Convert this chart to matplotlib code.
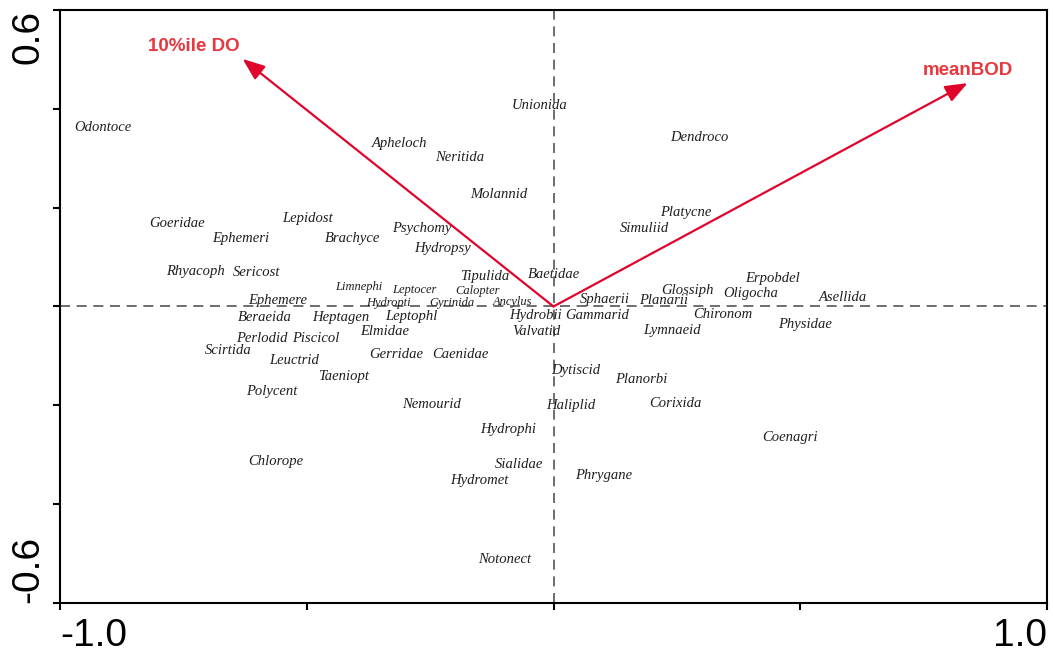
import matplotlib
matplotlib.use("Agg")
import matplotlib.pyplot as plt

# Taxon scores (axis 1, axis 2)
taxa = ["Odontoce", "Unionida", "Apheloch", "Neritida", "Dendroco", "Molannid",
        "Platycne", "Simuliid", "Goeridae", "Lepidost", "Ephemeri", "Brachyce",
        "Psychomy", "Hydropsy", "Rhyacoph", "Sericost", "Tipulida", "Baetidae",
        "Ephemere", "Sphaerii", "Planarii", "Glossiph", "Oligocha", "Erpobdel",
        "Asellida", "Beraeida", "Heptagen", "Leptophl", "Hydrobii", "Gammarid",
        "Chironom", "Elmidae", "Valvatid", "Lymnaeid", "Physidae", "Perlodid",
        "Piscicol", "Scirtida", "Leuctrid", "Gerridae", "Caenidae", "Taeniopt",
        "Dytiscid", "Planorbi", "Polycent", "Nemourid", "Haliplid", "Corixida",
        "Hydrophi", "Coenagri", "Chlorope", "Sialidae", "Phrygane", "Hydromet",
        "Notonect"]
taxa_x = [-0.914, -0.028, -0.312, -0.190, 0.296, -0.111,
          0.267, 0.184, -0.762, -0.498, -0.634, -0.407,
          -0.267, -0.225, -0.725, -0.602, -0.140, 0.000,
          -0.559, 0.103, 0.223, 0.272, 0.399, 0.444,
          0.586, -0.586, -0.432, -0.288, -0.036, 0.089,
          0.344, -0.342, -0.034, 0.241, 0.509, -0.592,
          -0.482, -0.659, -0.525, -0.318, -0.188, -0.426,
          0.045, 0.178, -0.571, -0.247, 0.036, 0.247,
          -0.091, 0.480, -0.563, -0.069, 0.101, -0.150,
          -0.099]
taxa_y = [0.363, 0.406, 0.329, 0.301, 0.341, 0.226,
          0.191, 0.157, 0.167, 0.179, 0.137, 0.137,
          0.157, 0.118, 0.070, 0.068, 0.060, 0.064,
          0.013, 0.015, 0.013, 0.033, 0.027, 0.056,
          0.019, -0.023, -0.023, -0.021, -0.019, -0.019,
          -0.017, -0.050, -0.050, -0.048, -0.037, -0.064,
          -0.064, -0.090, -0.110, -0.098, -0.098, -0.141,
          -0.129, -0.147, -0.173, -0.199, -0.201, -0.197,
          -0.248, -0.266, -0.313, -0.319, -0.343, -0.353,
          -0.511]

# Crowded taxa near the origin, printed smaller
small_taxa = ["Limnephi", "Leptocer", "Calopter", "Hydropti", "Gyrinida", "Ancylus"]
small_x = [-0.395, -0.282, -0.154, -0.334, -0.205, -0.083]
small_y = [0.039, 0.033, 0.031, 0.007, 0.007, 0.009]

# Environmental variable biplot arrows
env_names = ["10%ile DO", "meanBOD"]
env_x = [-0.630, 0.839]
env_y = [0.501, 0.452]

xlim = (-1.0, 1.0)
ylim = (-0.6, 0.6)
xticks = [-1.0, -0.5, 0.0, 0.5, 1.0]
yticks = [-0.6, -0.4, -0.2, 0.0, 0.2, 0.4, 0.6]
xticklabels = ["-1.0", "", "", "", "1.0"]
yticklabels = ["-0.6", "", "", "", "", "", "0.6"]

arrow_color = "#e0042c"
env_label_color = "#e6383f"
text_color = "#1e1e1e"

fig = plt.figure(figsize=(10.53, 6.57), dpi=100)
ax = fig.add_axes([0.0570, 0.0822, 0.9373, 0.9026])
ax.set_xlim(*xlim)
ax.set_ylim(*ylim)

# Centre cross
ax.axhline(0, color="#555555", lw=1.2, ls=(0, (6, 4)), zorder=1)
ax.axvline(0, color="#555555", lw=1.2, ls=(0, (6, 4)), zorder=1)

serif = ["Liberation Serif", "DejaVu Serif"]
for name, x, y in zip(taxa, taxa_x, taxa_y):
    ax.text(x, y, name, ha="center", va="center", fontsize=10.5,
            family=serif, style="italic", color=text_color, zorder=3)
for name, x, y in zip(small_taxa, small_x, small_y):
    ax.text(x, y, name, ha="center", va="center", fontsize=9,
            family=serif, style="italic", color=text_color, zorder=3)

label_align = [("right", (-2, 9)), ("center", (0, 9))]
for name, x, y, (ha, off) in zip(env_names, env_x, env_y, label_align):
    ax.annotate("", xy=(x, y), xytext=(0, 0),
                arrowprops=dict(arrowstyle="-|>,head_length=0.9,head_width=0.35",
                                mutation_scale=15, color=arrow_color, lw=1.6,
                                shrinkA=0, shrinkB=0),
                zorder=4)
    ax.annotate(name, xy=(x, y), xytext=off, textcoords="offset points",
                ha=ha, va="center", fontsize=13.5, fontweight="bold",
                family=["Liberation Sans", "DejaVu Sans"], color=env_label_color,
                zorder=5)

# Frame and ticks
for s in ax.spines.values():
    s.set_linewidth(1.5)
    s.set_color("black")
ax.tick_params(direction="out", length=5, width=1.5, color="black",
               top=False, right=False)
ax.set_xticks(xticks)
ax.set_yticks(yticks)
ax.set_xticklabels(xticklabels, fontsize=28, family=["Liberation Sans", "DejaVu Sans"])
ax.set_yticklabels(yticklabels, fontsize=28, family=["Liberation Sans", "DejaVu Sans"],
                   rotation=90)
ax.tick_params(axis="x", pad=6)
ax.tick_params(axis="y", pad=5)

xl = ax.get_xticklabels()
xl[0].set_ha("left")
xl[-1].set_ha("right")
yl = ax.get_yticklabels()
for t in yl:
    t.set_ha("right")
yl[0].set_va("bottom")
yl[-1].set_va("top")

fig.savefig("out.png", dpi=100, facecolor="white")
